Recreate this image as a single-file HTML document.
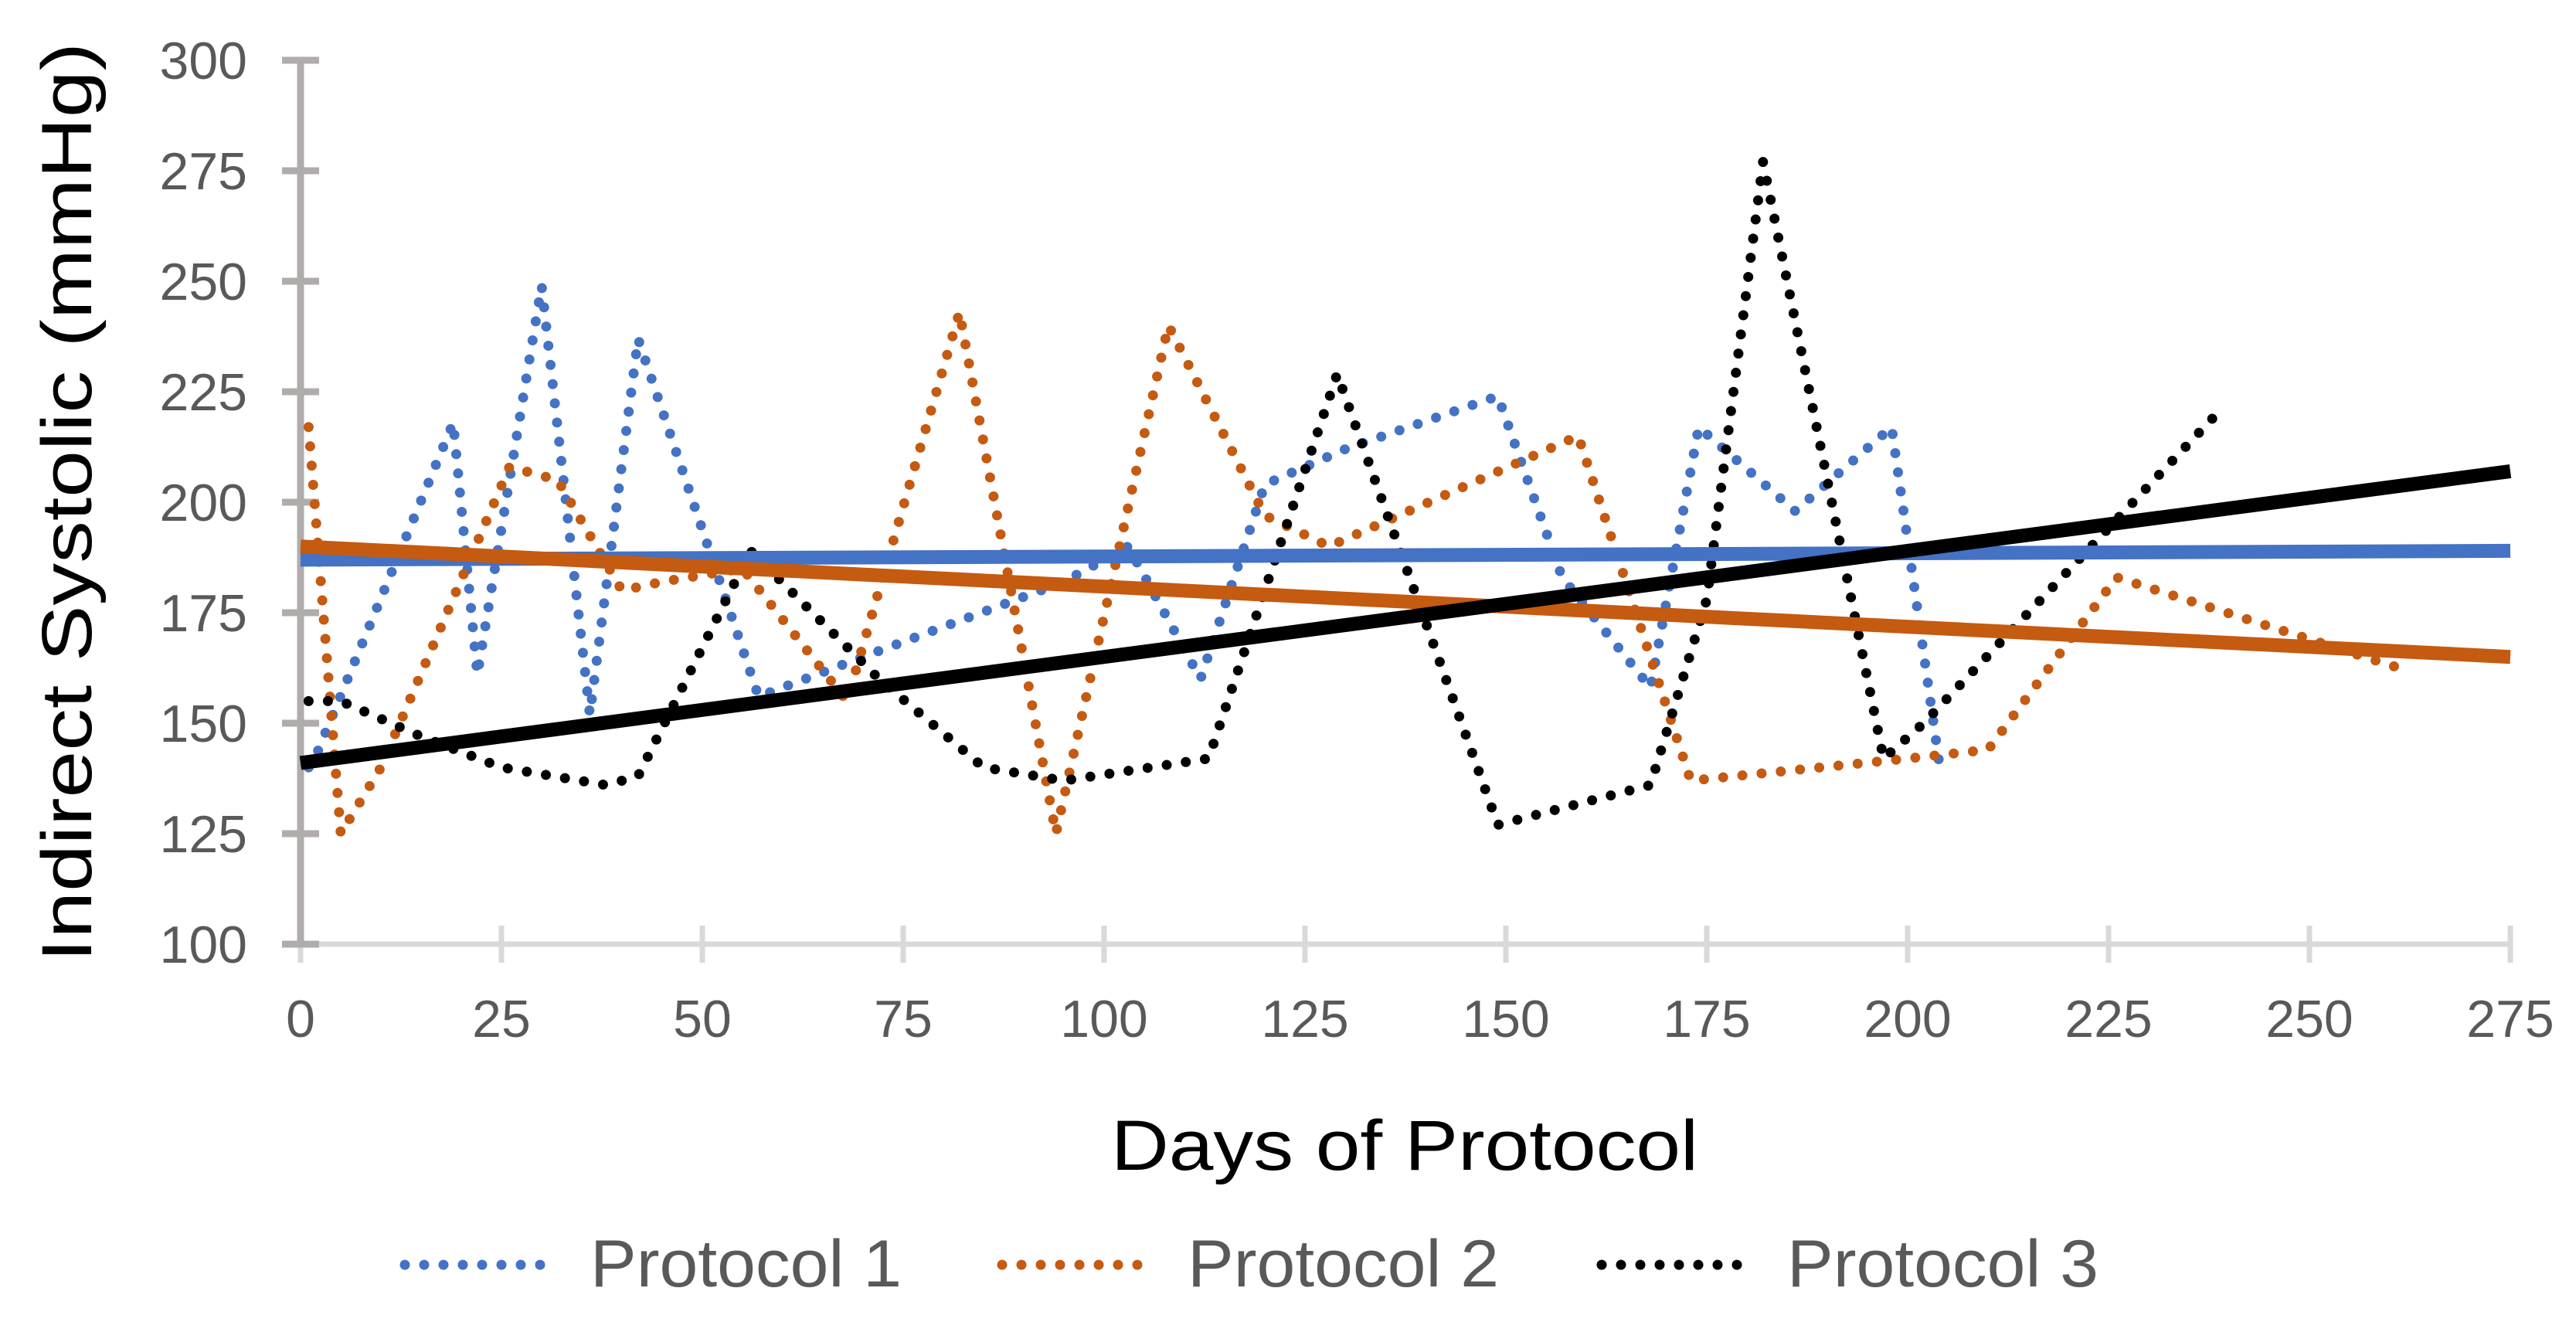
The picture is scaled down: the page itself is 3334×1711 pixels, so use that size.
<!DOCTYPE html>
<html><head><meta charset="utf-8"><style>
html,body{margin:0;padding:0;background:#fff;}
svg{display:block;font-family:"Liberation Sans",sans-serif;}
</style></head><body>
<svg id="chart" width="3334" height="1711" viewBox="0 0 3334 1711" xmlns="http://www.w3.org/2000/svg">
<rect width="3334" height="1711" fill="#fff"/>
<g id="grid"></g>
<g id="series"></g>
<text transform="translate(118,650) rotate(-90)" text-anchor="middle" font-size="92" fill="#000" textLength="1190" lengthAdjust="spacingAndGlyphs">Indirect Systolic (mmHg)</text>
<text x="1818" y="1514" text-anchor="middle" font-size="92" fill="#000" textLength="760" lengthAdjust="spacingAndGlyphs">Days of Protocol</text>
<g id="legend"></g>
</svg>
<script>
const xTicks=[0,25,50,75,100,125,150,175,200,225,250,275];
const yTicks=[100,125,150,175,200,225,250,275,300];
const p1Days=[1,2,19,22,30,36,42,57,70,95,103,112,120,130,149,157,168,174,186,198,204];
const p1Vals=[140,143,218,161,249,152,237,156,165,182,190,160,204,212,224,183,158,217,198,217,140];
const p2Days=[1,5,10,26,32,40,45,55,68,82,94,108,120,128,159,173,200,210,226,262];
const p2Vals=[217,125,140,208,205,180,182,185,155,243,125,240,197,190,215,137,142,144,183,162];
const p3Days=[1,5,15,25,38,42,56,72,85,95,113,129,149,168,175,182,197,202,239];
const p3Vals=[155,155,147,140,136,138,189,160,140,137,142,229,127,136,178,277,142,150,221];
const trendDays=[0,275];
const t1Vals=[187,189];
const t2Vals=[190,165];
const t3Vals=[141,207];
const legendLabels=["Protocol 1","Protocol 2","Protocol 3"];

const NS="http://www.w3.org/2000/svg";
const X0=389,X1=3249,Y0=1222,Y1=78;
function sx(d){return X0+(d-0)/(275-0)*(X1-X0);}
function sy(v){return Y0-(v-100)/(300-100)*(Y0-Y1);}
function mk(tag,attrs,parent){const e=document.createElementNS(NS,tag);for(const k in attrs)e.setAttribute(k,attrs[k]);parent.appendChild(e);return e;}
const grid=document.getElementById('grid'),series=document.getElementById('series'),legend=document.getElementById('legend');

let ax=mk('line',{x1:X0,y1:Y0,x2:X1,y2:Y0,stroke:'#d9d9d9','stroke-width':7},grid);


xTicks.forEach(t=>{
  const l=mk('line',{x1:sx(t),y1:Y0-24,x2:sx(t),y2:Y0+24,stroke:'#d9d9d9','stroke-width':7},grid);
  
  
  const tx=mk('text',{x:sx(t),y:1342,'text-anchor':'middle','font-size':68,fill:'#595959'},grid);
  tx.textContent=t;
  
  
});
let ay=mk('line',{x1:X0,y1:Y1,x2:X0,y2:Y0,stroke:'#b0acab','stroke-width':9},grid);


yTicks.forEach(t=>{
  const l=mk('line',{x1:X0-24,y1:sy(t),x2:X0+24,y2:sy(t),stroke:'#b0acab','stroke-width':9},grid);
  
  
  const tx=mk('text',{x:320,y:sy(t)+24,'text-anchor':'end','font-size':68,fill:'#595959'},grid);
  tx.textContent=t;
  
  
});

function pts(d,v){return d.map((x,i)=>sx(x)+','+sy(v[i])).join(' ');}
const defs=[[p1Days,p1Vals,'#4472c4','protocol-1-line'],[p2Days,p2Vals,'#c55a11','protocol-2-line'],[p3Days,p3Vals,'#000000','protocol-3-line']];
defs.forEach(s=>{
  const p=mk('polyline',{points:pts(s[0],s[1]),fill:'none',stroke:s[2],'stroke-width':13,'stroke-linecap':'round','stroke-linejoin':'round','stroke-dasharray':'0 25'},series);
  
  
});
const trends=[[t1Vals,'#4472c4','protocol-1-trendline'],[t2Vals,'#c55a11','protocol-2-trendline'],[t3Vals,'#000000','protocol-3-trendline']];
trends.forEach(s=>{
  const p=mk('polyline',{points:pts(trendDays,s[0]),fill:'none',stroke:s[1],'stroke-width':18},series);
  
  
});

const legX=[524,1297,2073],legC=['#4472c4','#c55a11','#000000'];
legendLabels.forEach((lab,i)=>{
  const l=mk('line',{x1:legX[i],y1:1637,x2:legX[i]+200,y2:1637,stroke:legC[i],'stroke-width':13,'stroke-linecap':'round','stroke-dasharray':'0 25'},legend);
  
  
  const t=mk('text',{x:legX[i]+240,y:1665,'font-size':86,fill:'#595959',textLength:403,lengthAdjust:'spacingAndGlyphs'},legend);
  t.textContent=lab;
  
  
});
</script>
</body></html>
